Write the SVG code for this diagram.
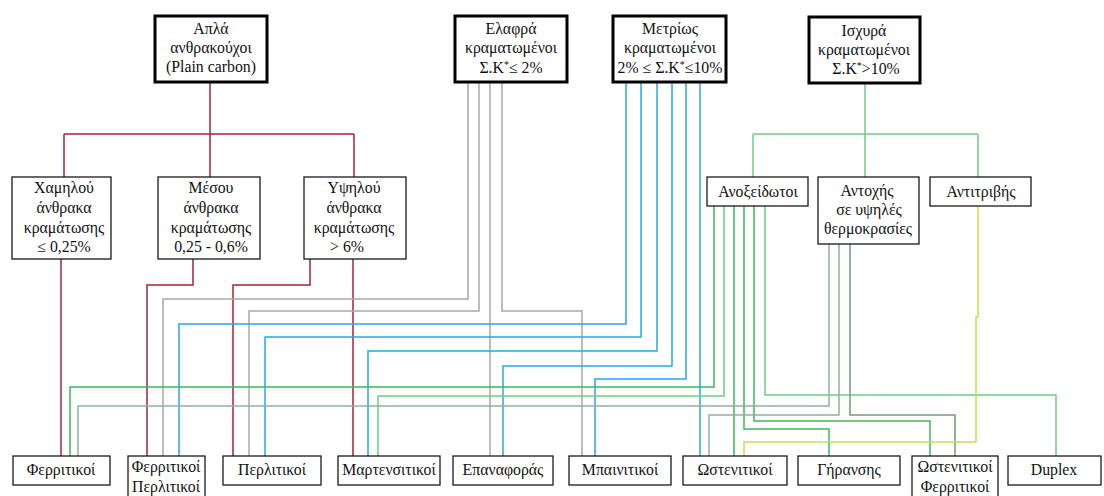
<svg xmlns="http://www.w3.org/2000/svg" width="1104" height="496" viewBox="0 0 1104 496">
  <style>
    text { font-family: "Liberation Serif", "DejaVu Serif", serif; font-size: 15.8px; fill: #111; text-anchor: middle; }
    .top { fill: #fff; stroke: #000; stroke-width: 3; }
    .box { fill: #fff; stroke: #1a1a1a; stroke-width: 1.3; }
    .ln { fill: none; stroke-width: 1.5; }
    .red { stroke: #a5223d; }
    .gray { stroke: #a8a8a8; }
    .blue { stroke: #2aa6e2; }
    .green { stroke: #3cb85c; }
    .lgreen { stroke: #6fcc88; }
    .sage { stroke: #8fb39c; }
    .dsage { stroke: #74997f; }
    .lime { stroke: #c4e24c; }
    .sup { font-size: 10px; }
  </style>
  <rect width="1104" height="496" fill="#fff"/>

  <!-- connectors -->
  <g id="connectors">
    <!-- plain carbon tree -->
    <path class="ln red" d="M210 82V134M64 134H354M64 134V177M210 134V177M354 134V177"/>
    <path class="ln red" d="M61 259V456"/>
    <path class="ln red" d="M193 259V285H147V456"/>
    <path class="ln red" d="M310 259V285H233V456"/>
    <path class="ln red" d="M353 259V456"/>
    <!-- low alloy -->
    <path class="ln gray" d="M468 82V299H163V456"/>
    <path class="ln gray" d="M479 82V311H249V456"/>
    <path class="ln gray" d="M490 82V456"/>
    <path class="ln gray" d="M502 82V311H582V456"/>
    <!-- medium alloy -->
    <path class="ln blue" d="M626 82V324H179V456"/>
    <path class="ln blue" d="M641 82V337H265V456"/>
    <path class="ln blue" d="M657 82V351H368V456"/>
    <path class="ln blue" d="M672 82V366H503V456"/>
    <path class="ln blue" d="M686 82V379H595V456"/>
    <path class="ln blue" d="M700 82V456"/>
    <!-- high alloy -->
    <path class="ln lgreen" d="M865 83V134M753 134H978M753 134V177M865 134V177M978 134V177"/>
    <!-- stainless -->
    <path class="ln green" d="M714 206V387H70V456"/>
    <path class="ln lgreen" d="M724 206V396H378V456"/>
    <path class="ln green" d="M734 206V456"/>
    <path class="ln green" d="M744 206V429H829V456"/>
    <path class="ln green" d="M754 206V421H930V456"/>
    <path class="ln lgreen" d="M765 206V395H1056V456"/>
    <!-- heat resistant -->
    <path class="ln sage" d="M829 244V406H78V456"/>
    <path class="ln sage" d="M839 244V415H709V456"/>
    <path class="ln dsage" d="M850 244V415H955V456"/>
    <!-- wear resistant -->
    <path class="ln lime" d="M978 206V317H976V442H744V456"/>
  </g>

  <!-- top level -->
  <g id="plain-carbon">
    <rect class="top" x="155" y="16" width="112" height="66"/>
    <text x="211" y="34">Απλά</text>
    <text x="211" y="53">ανθρακούχοι</text>
    <text x="211" y="72">(Plain carbon)</text>
  </g>
  <g id="low-alloy">
    <rect class="top" x="455" y="16" width="112" height="66"/>
    <text x="511" y="34">Ελαφρά</text>
    <text x="511" y="53">κραματωμένοι</text>
    <text x="511" y="73">Σ.Κ<tspan class="sup" dy="-5">*</tspan><tspan dy="5">≤ 2%</tspan></text>
  </g>
  <g id="medium-alloy">
    <rect class="top" x="613" y="16" width="113" height="66"/>
    <text x="670" y="34">Μετρίως</text>
    <text x="670" y="53">κραματωμένοι</text>
    <text x="670" y="73">2% ≤ Σ.Κ<tspan class="sup" dy="-5">*</tspan><tspan dy="5">≤10%</tspan></text>
  </g>
  <g id="high-alloy">
    <rect class="top" x="809" y="17" width="111" height="66"/>
    <text x="864" y="36">Ισχυρά</text>
    <text x="864" y="55">κραματωμένοι</text>
    <text x="866" y="74">Σ.Κ<tspan class="sup" dy="-5">*</tspan><tspan dy="5">&gt;10%</tspan></text>
  </g>

  <!-- carbon content -->
  <g id="low-carbon">
    <rect class="box" x="12" y="177" width="99" height="82"/>
    <text x="64" y="193">Χαμηλού</text>
    <text x="64" y="213">άνθρακα</text>
    <text x="64" y="233">κραμάτωσης</text>
    <text x="64" y="252">≤ 0,25%</text>
  </g>
  <g id="medium-carbon">
    <rect class="box" x="158" y="177" width="102" height="82"/>
    <text x="211" y="193">Μέσου</text>
    <text x="211" y="213">άνθρακα</text>
    <text x="211" y="233">κραμάτωσης</text>
    <text x="211" y="252">0,25 - 0,6%</text>
  </g>
  <g id="high-carbon">
    <rect class="box" x="304" y="177" width="102" height="82"/>
    <text x="354" y="193">Υψηλού</text>
    <text x="354" y="213">άνθρακα</text>
    <text x="354" y="233">κραμάτωσης</text>
    <text x="347" y="252">&gt; 6%</text>
  </g>

  <!-- high alloy families -->
  <g id="stainless">
    <rect class="box" x="707" y="177" width="101" height="29"/>
    <text x="758" y="197">Ανοξείδωτοι</text>
  </g>
  <g id="heat-resistant">
    <rect class="box" x="818" y="177" width="101" height="67"/>
    <text x="867" y="196">Αντοχής</text>
    <text x="869" y="215">σε υψηλές</text>
    <text x="868" y="234">θερμοκρασίες</text>
  </g>
  <g id="wear-resistant">
    <rect class="box" x="930" y="177" width="101" height="29"/>
    <text x="981" y="197">Αντιτριβής</text>
  </g>

  <!-- microstructures -->
  <g id="ferritic">
    <rect class="box" x="13" y="456" width="97" height="29"/>
    <text x="61" y="475">Φερριτικοί</text>
  </g>
  <g id="ferritic-pearlitic">
    <rect class="box" x="128" y="456" width="77" height="46"/>
    <text x="166" y="472">Φερριτικοί</text>
    <text x="166" y="492">Περλιτικοί</text>
  </g>
  <g id="pearlitic">
    <rect class="box" x="223" y="456" width="98" height="29"/>
    <text x="272" y="475">Περλιτικοί</text>
  </g>
  <g id="martensitic">
    <rect class="box" x="338" y="456" width="102" height="29"/>
    <text x="389" y="475">Μαρτενσιτικοί</text>
  </g>
  <g id="recovery">
    <rect class="box" x="453" y="456" width="100" height="29"/>
    <text x="503" y="475">Επαναφοράς</text>
  </g>
  <g id="bainitic">
    <rect class="box" x="569" y="456" width="102" height="29"/>
    <text x="620" y="475">Μπαινιτικοί</text>
  </g>
  <g id="austenitic">
    <rect class="box" x="683" y="456" width="104" height="29"/>
    <text x="735" y="475">Ωστενιτικοί</text>
  </g>
  <g id="ageing">
    <rect class="box" x="798" y="456" width="102" height="29"/>
    <text x="849" y="475">Γήρανσης</text>
  </g>
  <g id="austenitic-ferritic">
    <rect class="box" x="912" y="456" width="86" height="46"/>
    <text x="955" y="472">Ωστενιτικοί</text>
    <text x="955" y="492">Φερριτικοί</text>
  </g>
  <g id="duplex">
    <rect class="box" x="1008" y="456" width="93" height="29"/>
    <text x="1054" y="475">Duplex</text>
  </g>
</svg>
